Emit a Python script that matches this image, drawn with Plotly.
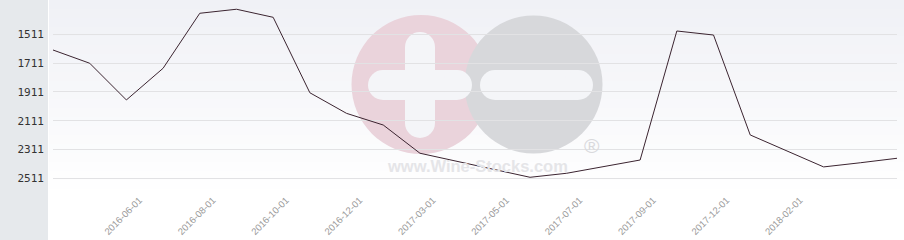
import plotly.graph_objects as go

categories = [
    "2016-04-01", "2016-05-01", "2016-06-01", "2016-07-01", "2016-08-01", "2016-09-01",
    "2016-10-01", "2016-11-01", "2016-12-01", "2017-02-01", "2017-03-01", "2017-04-01",
    "2017-05-01", "2017-06-01", "2017-07-01", "2017-08-01", "2017-09-01", "2017-11-01",
    "2017-12-01", "2018-01-01", "2018-02-01", "2018-03-01", "2018-04-01", "2018-05-01",
]
rank_values = [
    1620, 1712, 1967, 1747, 1365, 1337, 1393, 1917, 2060, 2141, 2337, 2392,
    2448, 2504, 2476, 2430, 2384, 1488, 1516, 2210, 2321, 2432, 2403, 2372,
]
x_tick_labels = [
    "2016-06-01", "2016-08-01", "2016-10-01", "2016-12-01", "2017-03-01",
    "2017-05-01", "2017-07-01", "2017-09-01", "2017-12-01", "2018-02-01",
]
y_tick_values = [1511, 1711, 1911, 2111, 2311, 2511]

W, H = 904, 240
ML, MR, MT, MB = 53, 7, 0, 42
PW, PH = W - ML - MR, H - MT - MB


def px(xp):
    return (xp - ML) / PW


def py(yp):
    return (PH + MT - yp) / PH


shapes = []
# left grey panel
shapes.append(dict(type="rect", xref="paper", yref="paper", x0=px(0), x1=px(48),
                   y0=py(240), y1=py(0), fillcolor="#e6e9ec", line_width=0, layer="below"))
# plot background gradient (stepped bands)
top = (240, 241, 246)
bot = (255, 255, 255)
n = 22
for i in range(n):
    t = i / (n - 1)
    c = tuple(round(top[j] + (bot[j] - top[j]) * t) for j in range(3))
    y0p = PH * i / n
    y1p = PH * (i + 1) / n
    shapes.append(dict(type="rect", xref="paper", yref="paper", x0=px(49), x1=px(904),
                       y0=py(y1p), y1=py(y0p), fillcolor="rgb(%d,%d,%d)" % c,
                       line_width=0, layer="below"))

# watermark
def circ(cx, cy, r, col):
    return dict(type="circle", xref="paper", yref="paper", x0=px(cx - r), x1=px(cx + r),
                y0=py(cy + r), y1=py(cy - r), fillcolor=col, line_width=0, layer="below")


def rbar(x0, x1, y0, y1, col):
    out = []
    r = (min(x1 - x0, y1 - y0)) / 2
    if x1 - x0 >= y1 - y0:
        out.append(dict(type="rect", xref="paper", yref="paper", x0=px(x0 + r), x1=px(x1 - r),
                        y0=py(y1), y1=py(y0), fillcolor=col, line_width=0, layer="below"))
        out.append(circ(x0 + r, (y0 + y1) / 2, r, col))
        out.append(circ(x1 - r, (y0 + y1) / 2, r, col))
    else:
        out.append(dict(type="rect", xref="paper", yref="paper", x0=px(x0), x1=px(x1),
                        y0=py(y1 - r), y1=py(y0 + r), fillcolor=col, line_width=0, layer="below"))
        out.append(circ((x0 + x1) / 2, y0 + r, r, col))
        out.append(circ((x0 + x1) / 2, y1 - r, r, col))
    return out


pink = "#ead3db"
grey = "#d7d8db"
hole = "#f4f5f8"
shapes.append(circ(421, 84.5, 69.5, pink))
shapes.append(circ(533.5, 84.5, 69, grey))
shapes += rbar(405, 435, 32, 138, hole)
shapes += rbar(368, 472, 70, 100, hole)
shapes += rbar(480, 593, 70, 100, hole)

annotations = [
    dict(xref="paper", yref="paper", x=px(477.5), y=py(166), text="<b>www.Wine-Stocks.com</b>",
         showarrow=False, font=dict(family="Liberation Sans", size=16.5, color="#e5e5e8"),
         xanchor="center", yanchor="middle"),
    dict(xref="paper", yref="paper", x=px(592), y=py(145), text="®",
         showarrow=False, font=dict(family="Liberation Sans", size=21, color="#d9d9dc"),
         xanchor="center", yanchor="middle"),
]

fig = go.Figure()
fig.add_trace(go.Scatter(
    x=categories, y=rank_values, mode="lines",
    line=dict(color="#3b2430", width=1), showlegend=False, hoverinfo="x+y",
))

fig.update_layout(
    width=W, height=H,
    margin=dict(l=ML, r=MR, t=MT, b=MB, pad=0),
    paper_bgcolor="white", plot_bgcolor="rgba(0,0,0,0)",
    shapes=shapes, annotations=annotations,
    xaxis=dict(type="category", range=[0, len(categories) - 1],
               tickvals=x_tick_labels, ticktext=x_tick_labels,
               tickangle=-45, showgrid=False, zeroline=False, showline=False,
               ticks="", ticklabelshift=13, ticklabelstandoff=-6,
               tickfont=dict(family="Liberation Sans", size=9.5, color="#999999")),
    yaxis=dict(range=[2647.8, 1272.8], tickvals=y_tick_values,
               showgrid=True, gridcolor="#e2e2e4", gridwidth=1, zeroline=False,
               showline=False, ticks="", ticklabelstandoff=8,
               tickfont=dict(family="DejaVu Sans Mono", size=11, color="#333333")),
)

fig.write_html("out.html")
